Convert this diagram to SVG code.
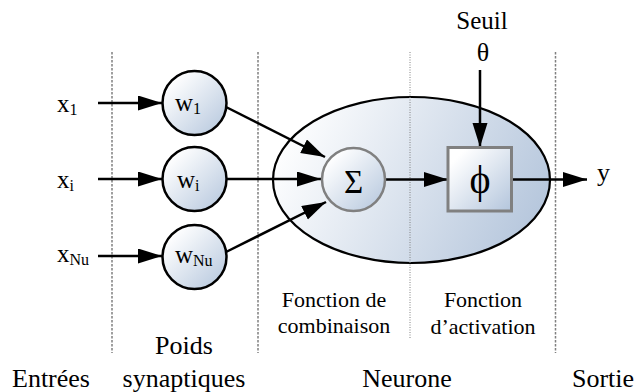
<svg xmlns="http://www.w3.org/2000/svg" width="635" height="392" viewBox="0 0 635 392">
<defs>
<linearGradient id="g" x1="0" y1="0" x2="1" y2="1">
<stop offset="0.15" stop-color="#ffffff"/>
<stop offset="1" stop-color="#b3c5dc"/>
</linearGradient>
<linearGradient id="ge" x1="0" y1="0.35" x2="1" y2="0.65">
<stop offset="0" stop-color="#ffffff"/>
<stop offset="1" stop-color="#b5c6dc"/>
</linearGradient>
<marker id="ah" markerUnits="userSpaceOnUse" markerWidth="25" markerHeight="16" refX="24" refY="7.5" orient="auto">
<path d="M0,0 L24,7.5 L0,15 z" fill="#000"/>
</marker>
</defs>
<style>
text{font-family:'Liberation Serif','Times New Roman',serif;fill:#000}
.sep{stroke:#808080;stroke-width:1.5;stroke-dasharray:2.5 1.5;fill:none}
.sep2{stroke:#808080;stroke-width:1;stroke-dasharray:1 1.5;fill:none}
.w{fill:url(#g);stroke:#000;stroke-width:2.5}
.c{stroke:#000;stroke-width:2.5;fill:none;marker-end:url(#ah)}
</style>
<g id="separators">
<line class="sep" x1="112" y1="52" x2="112" y2="353"/>
<line class="sep" x1="258" y1="52" x2="258" y2="353"/>
<line class="sep" x1="555.5" y1="52" x2="555.5" y2="353"/>
</g>
<g id="neurone">
<ellipse cx="411.5" cy="180" rx="138.5" ry="83" fill="url(#ge)" stroke="#000" stroke-width="2.2"/>
</g>
<g id="sep-inner">
<line class="sep2" x1="410" y1="52" x2="410" y2="338"/>
</g>
<g id="connectors">
<line class="c" x1="98" y1="103" x2="162" y2="103"/>
<line class="c" x1="98" y1="179" x2="162" y2="179"/>
<line class="c" x1="98" y1="256" x2="162" y2="256"/>
<line class="c" x1="226" y1="107" x2="325" y2="157"/>
<line class="c" x1="227" y1="179" x2="321" y2="179"/>
<line class="c" x1="226" y1="252" x2="326" y2="202"/>
<line class="c" x1="385" y1="179.5" x2="448" y2="179.5"/>
<line class="c" x1="480" y1="70" x2="480" y2="147"/>
<line class="c" x1="512" y1="179.5" x2="587" y2="179.5"/>
</g>
<g id="w1">
<circle class="w" cx="194.5" cy="103" r="32"/>
<text x="175" y="111" font-size="25">w<tspan font-size="16" dy="3">1</tspan></text>
</g>
<g id="wi">
<circle class="w" cx="194.5" cy="179" r="32"/>
<text x="177" y="188" font-size="25">w<tspan font-size="16" dy="3">i</tspan></text>
</g>
<g id="wNu">
<circle class="w" cx="194.5" cy="257" r="32"/>
<text x="175" y="263" font-size="25">w<tspan font-size="16" dy="3">Nu</tspan></text>
</g>
<g id="sigma">
<circle cx="353.5" cy="179.5" r="31.5" fill="url(#g)" stroke="#808080" stroke-width="2.5"/>
<text x="353.5" y="192.5" font-size="33" text-anchor="middle">Σ</text>
</g>
<g id="phi">
<rect x="448" y="147.5" width="63.5" height="63.5" fill="url(#g)" stroke="#808080" stroke-width="3"/>
<text x="480" y="193" font-size="40" text-anchor="middle">ϕ</text>
</g>
<g id="labels">
<text x="57" y="112" font-size="25">x<tspan font-size="16" dy="3">1</tspan></text>
<text x="57" y="188" font-size="25">x<tspan font-size="16" dy="3">i</tspan></text>
<text x="57" y="262" font-size="25">x<tspan font-size="16" dy="3">Nu</tspan></text>
<text x="597" y="181" font-size="26">y</text>
<text x="482" y="29" font-size="25" text-anchor="middle">Seuil</text>
<text x="483" y="61" font-size="26" text-anchor="middle">θ</text>
<text x="334" y="307" font-size="22" text-anchor="middle">Fonction de</text>
<text x="334" y="333" font-size="22" text-anchor="middle">combinaison</text>
<text x="483" y="307" font-size="22" text-anchor="middle">Fonction</text>
<text x="483" y="334" font-size="22" text-anchor="middle">d’activation</text>
<text x="12" y="387" font-size="26">Entrées</text>
<text x="184" y="354" font-size="26" text-anchor="middle">Poids</text>
<text x="184" y="387" font-size="26" text-anchor="middle">synaptiques</text>
<text x="407" y="387" font-size="26" text-anchor="middle">Neurone</text>
<text x="572" y="387" font-size="26">Sortie</text>
</g>
</svg>
